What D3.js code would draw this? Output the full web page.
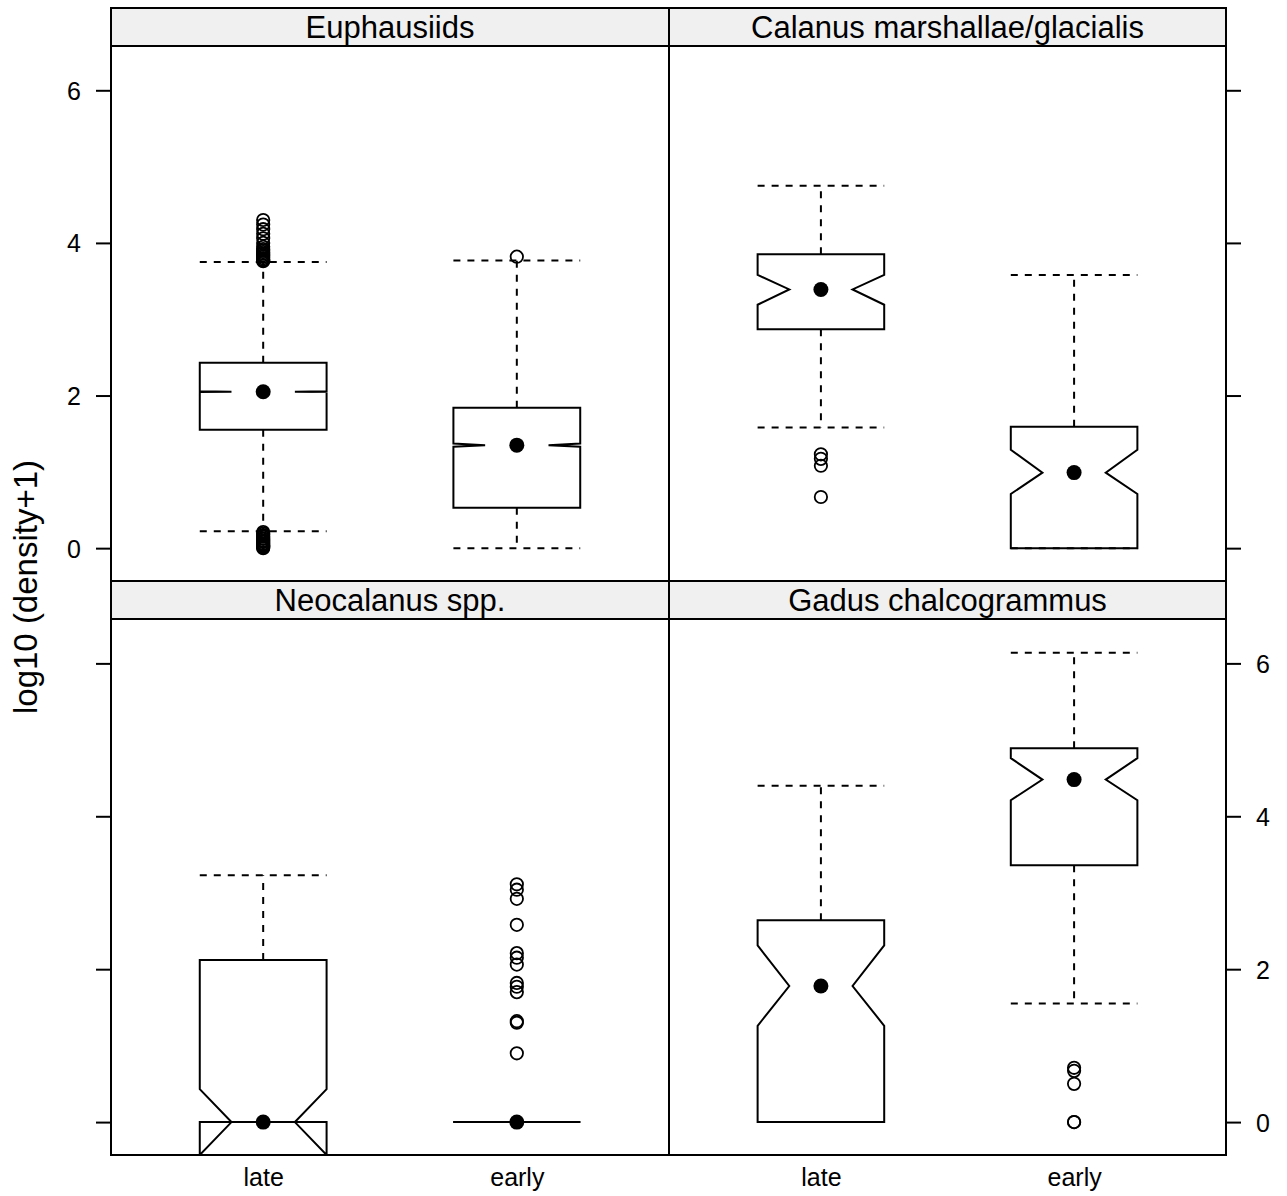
<!DOCTYPE html>
<html>
<head>
<meta charset="utf-8">
<script src="https://cdn.jsdelivr.net/npm/d3@7"></script>
<style>
  html, body { margin: 0; padding: 0; background: #fff; }
  svg { display: block; font-family: "Liberation Sans", Arial, Helvetica, sans-serif; }
</style>
</head>
<body>
<svg id="chart" width="1287" height="1196"></svg>
<script>
// ---- data ----
const panelNames = ["Euphausiids", "Calanus marshallae/glacialis", "Neocalanus spp.", "Gadus chalcogrammus"];
const groups = ["late", "early"];
// each row: [late, early]
const whiskerLow  = [[0.22, 0.00], [1.58, 0.00], [0.00, 0.00], [0.00, 1.55]];
const lowerHinge  = [[1.55, 0.53], [2.87, 0.00], [0.00, 0.00], [0.00, 3.36]];
const notchLow    = [[2.045, 1.33], [3.19, 0.71], [-0.43, 0.00], [1.26, 4.21]];
const medians     = [[2.05, 1.35], [3.39, 0.99], [0.00, 0.00], [1.78, 4.48]];
const notchHigh   = [[2.055, 1.37], [3.58, 1.29], [0.43, 0.00], [2.31, 4.76]];
const upperHinge  = [[2.43, 1.84], [3.85, 1.59], [2.12, 0.00], [2.64, 4.89]];
const whiskerHigh = [[3.75, 3.77], [4.75, 3.58], [3.23, 0.00], [4.40, 6.14]];
const outliers = [
  [[4.30, 4.24, 4.18, 4.12, 4.06, 4.00, 3.95, 3.92, 3.90, 3.88, 3.86, 3.84, 3.82, 3.80, 3.78, 3.77, 3.76,
    0.21, 0.19, 0.17, 0.15, 0.13, 0.12, 0.10, 0.09, 0.08, 0.06, 0.05, 0.04, 0.03, 0.02, 0.01, 0.00],
   [3.82]],
  [[1.23, 1.17, 1.08, 0.67], []],
  [[], [3.11, 3.04, 2.92, 2.58, 2.21, 2.15, 2.06, 1.82, 1.77, 1.70, 1.32, 1.30, 0.90]],
  [[], [0.71, 0.67, 0.50, 0.00, 0.00]]
];
const yTicks = [0, 2, 4, 6];
const yDomain = [-0.4305, 6.5805];
const xDomain = [0.4, 2.6];

// ---- layout ----
const cols = [[111, 669], [669, 1226]];
const rows = [{strip: [8, 46], panel: [46, 581]}, {strip: [581, 619], panel: [619, 1155]}];
const boxW = 0.5;
const lw = 2;
const tickFont = 25, stripFont = 31, labFont = 33;

const svg = d3.select("#chart");
const defs = svg.append("defs");

panelNames.forEach((name, p) => {
  const r = Math.floor(p / 2), c = p % 2;
  const [x0, x1] = cols[c];
  const row = rows[r];
  const [py0, py1] = row.panel;
  const x = d3.scaleLinear().domain(xDomain).range([x0, x1]);
  const y = d3.scaleLinear().domain(yDomain).range([py1, py0]);

  const clipId = "clip" + p;
  defs.append("clipPath").attr("id", clipId)
    .append("rect").attr("x", x0).attr("y", py0).attr("width", x1 - x0).attr("height", py1 - py0);

  const g = svg.append("g");
  const pg = g.append("g").attr("clip-path", `url(#${clipId})`);

  groups.forEach((gr, i) => {
    const cx = i + 1;
    const hw = boxW / 2;
    const dashed = {stroke: "#000", "stroke-width": lw, "stroke-dasharray": "7,7", fill: "none"};
    const addLine = (xa, ya, xb, yb, st) => {
      const l = pg.append("line").attr("x1", x(xa)).attr("y1", y(ya)).attr("x2", x(xb)).attr("y2", y(yb));
      Object.entries(st).forEach(([k, v]) => l.attr(k, v));
    };
    // whiskers
    addLine(cx, upperHinge[p][i], cx, whiskerHigh[p][i], dashed);
    addLine(cx, lowerHinge[p][i], cx, whiskerLow[p][i], dashed);
    addLine(cx - hw, whiskerHigh[p][i], cx + hw, whiskerHigh[p][i], dashed);
    addLine(cx - hw, whiskerLow[p][i], cx + hw, whiskerLow[p][i], dashed);
    // notched box
    const pts = [
      [cx - hw, lowerHinge[p][i]], [cx - hw, notchLow[p][i]], [cx - hw / 2, medians[p][i]],
      [cx - hw, notchHigh[p][i]], [cx - hw, upperHinge[p][i]], [cx + hw, upperHinge[p][i]],
      [cx + hw, notchHigh[p][i]], [cx + hw / 2, medians[p][i]], [cx + hw, notchLow[p][i]],
      [cx + hw, lowerHinge[p][i]]
    ];
    pg.append("path")
      .attr("d", d3.line().x(d => x(d[0])).y(d => y(d[1]))(pts) + "Z")
      .attr("fill", "none").attr("stroke", "#000").attr("stroke-width", lw)
      .attr("stroke-linejoin", "miter");
    // outliers
    pg.selectAll(null).data(outliers[p][i]).enter().append("circle")
      .attr("cx", x(cx)).attr("cy", d => y(d)).attr("r", 6.2)
      .attr("fill", "none").attr("stroke", "#000").attr("stroke-width", 1.8);
    // median dot
    pg.append("circle").attr("cx", x(cx)).attr("cy", y(medians[p][i])).attr("r", 7.5).attr("fill", "#000");
  });

  // panel frame
  g.append("rect").attr("x", x0).attr("y", py0).attr("width", x1 - x0).attr("height", py1 - py0)
    .attr("fill", "none").attr("stroke", "#000").attr("stroke-width", lw);

  // strip
  const [s0, s1] = row.strip;
  g.append("rect").attr("x", x0).attr("y", s0).attr("width", x1 - x0).attr("height", s1 - s0)
    .attr("fill", "#f0f0f0").attr("stroke", "#000").attr("stroke-width", lw);
  g.append("text").attr("x", (x0 + x1) / 2).attr("y", (s0 + s1) / 2 + 0.36 * stripFont)
    .attr("text-anchor", "middle").attr("font-size", stripFont).attr("fill", "#000").text(name);

  // y axes
  const leftLabels = (r === 0 && c === 0);
  const rightLabels = (r === 1 && c === 1);
  if (c === 0) {
    const ax = d3.axisLeft(y).tickValues(yTicks).tickSize(15).tickPadding(15)
      .tickFormat(leftLabels ? d3.format("d") : () => "");
    const ag = svg.append("g").attr("transform", `translate(${x0},0)`).call(ax);
    styleAxis(ag);
  } else {
    const ax = d3.axisRight(y).tickValues(yTicks).tickSize(15).tickPadding(15)
      .tickFormat(rightLabels ? d3.format("d") : () => "");
    const ag = svg.append("g").attr("transform", `translate(${x1},0)`).call(ax);
    styleAxis(ag);
  }
  // x axis labels (bottom row only)
  if (r === 1) {
    const ax = d3.axisBottom(x).tickValues([1, 2]).tickSize(0).tickPadding(14)
      .tickFormat(d => groups[d - 1]);
    const ag = svg.append("g").attr("transform", `translate(0,${py1})`).call(ax);
    ag.select(".domain").remove();
    ag.selectAll("line").remove();
    ag.selectAll("text").attr("font-size", tickFont).attr("font-family", null).attr("fill", "#000")
      .attr("dy", null).attr("y", 31);
  }
});

function styleAxis(ag) {
  ag.select(".domain").remove();
  ag.selectAll(".tick line").attr("stroke", "#000").attr("stroke-width", lw);
  ag.selectAll(".tick text").attr("font-size", tickFont).attr("font-family", null)
    .attr("fill", "#000").attr("dy", "0.36em");
}

// y label
svg.append("text")
  .attr("transform", `translate(37,587) rotate(-90)`)
  .attr("text-anchor", "middle").attr("font-size", labFont).attr("fill", "#000")
  .text("log10 (density+1)");
</script>
</body>
</html>
